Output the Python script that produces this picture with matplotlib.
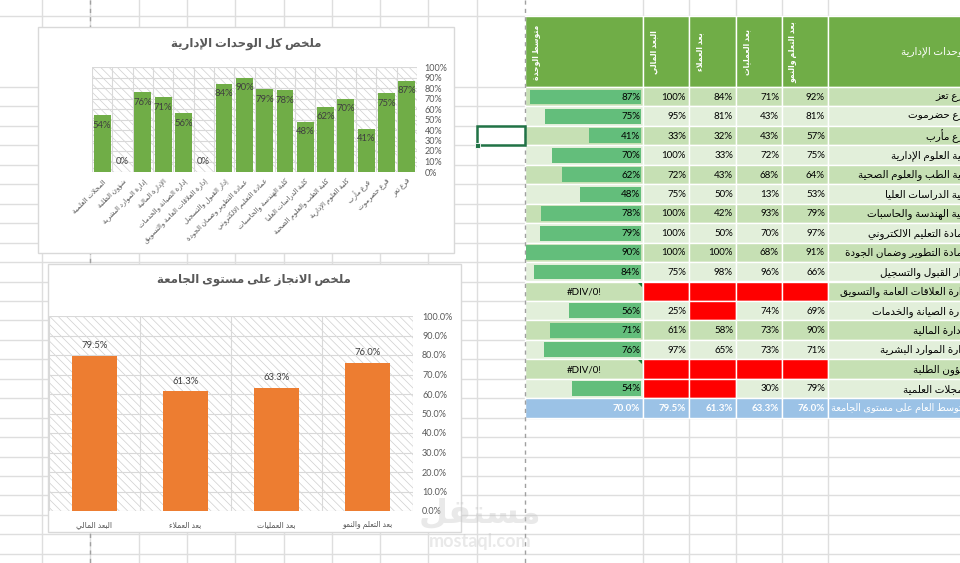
import numpy as np
import matplotlib.pyplot as plt
from matplotlib.patches import Rectangle, Polygon

plt.rcParams['font.family'] = ['Lato', 'DejaVu Sans']
plt.rcParams['hatch.linewidth'] = 0.5

# ---- data ----
units = ['فرع تعز', 'فرع حضرموت', 'فرع مأرب', 'كلية العلوم الإدارية',
         'كلية الطب والعلوم الصحية', 'كلية الدراسات العليا', 'كلية الهندسة والحاسبات',
         'عمادة التعليم الالكتروني', 'عمادة التطوير وضمان الجودة', 'إدار القبول والتسجيل',
         'إدارة العلاقات العامة والتسويق', 'إدارة الصيانة والخدمات', 'الإدارة المالية',
         'إدارة الموارد البشرية', 'شؤون الطلبة', 'المجلات العلمية']
unit_avg = [87, 75, 41, 70, 62, 48, 78, 79, 90, 84, None, 56, 71, 76, None, 54]
financial = [100, 95, 33, 100, 72, 75, 100, 100, 100, 75, None, 25, 61, 97, None, None]
customers = [84, 81, 32, 33, 43, 50, 42, 50, 100, 98, None, None, 58, 65, None, None]
operations = [71, 43, 43, 72, 68, 13, 93, 70, 68, 96, None, 74, 73, 73, None, 30]
learning = [92, 81, 57, 75, 64, 53, 79, 97, 91, 66, None, 69, 90, 71, None, 79]

headers = ['متوسط الوحدة', 'البعد المالي', 'بعد العملاء', 'بعد العمليات', 'بعد التعلم والنمو']
name_header = 'الوحدات الإدارية'
total_label = 'المتوسط العام على مستوى الجامعة'
total_avg = 70.0

dims = ['البعد المالي', 'بعد العملاء', 'بعد العمليات', 'بعد التعلم والنمو']
dim_avg = [79.5, 61.3, 63.3, 76.0]

title1 = 'ملخص كل الوحدات الإدارية'
title2 = 'ملخص الانجاز على مستوى الجامعة'

# ---- simple arabic shaping (presentation forms) ----
FORMS = {
    'ء': (0xFE80, 1), 'آ': (0xFE81, 2), 'أ': (0xFE83, 2), 'ؤ': (0xFE85, 2), 'إ': (0xFE87, 2),
    'ئ': (0xFE89, 4), 'ا': (0xFE8D, 2), 'ب': (0xFE8F, 4), 'ة': (0xFE93, 2), 'ت': (0xFE95, 4),
    'ث': (0xFE99, 4), 'ج': (0xFE9D, 4), 'ح': (0xFEA1, 4), 'خ': (0xFEA5, 4), 'د': (0xFEA9, 2),
    'ذ': (0xFEAB, 2), 'ر': (0xFEAD, 2), 'ز': (0xFEAF, 2), 'س': (0xFEB1, 4), 'ش': (0xFEB5, 4),
    'ص': (0xFEB9, 4), 'ض': (0xFEBD, 4), 'ط': (0xFEC1, 4), 'ظ': (0xFEC5, 4), 'ع': (0xFEC9, 4),
    'غ': (0xFECD, 4), 'ف': (0xFED1, 4), 'ق': (0xFED5, 4), 'ك': (0xFED9, 4), 'ل': (0xFEDD, 4),
    'م': (0xFEE1, 4), 'ن': (0xFEE5, 4), 'ه': (0xFEE9, 4), 'و': (0xFEED, 2), 'ى': (0xFEEF, 2),
    'ي': (0xFEF1, 4),
}
LAM_ALEF = {'آ': 0xFEF5, 'أ': 0xFEF7, 'إ': 0xFEF9, 'ا': 0xFEFB}


def joins_next(c):
    return c in FORMS and FORMS[c][1] == 4


def ar(text):
    out = []
    i, n = 0, len(text)
    while i < n:
        c = text[i]
        prev = text[i - 1] if i > 0 else ''
        if c == 'ل' and i + 1 < n and text[i + 1] in LAM_ALEF:
            out.append(chr(LAM_ALEF[text[i + 1]] + (1 if joins_next(prev) else 0)))
            i += 2
            continue
        if c not in FORMS:
            out.append(c)
            i += 1
            continue
        base, k = FORMS[c]
        p = joins_next(prev)
        nx = text[i + 1] if i + 1 < n else ''
        q = k == 4 and nx in FORMS and nx != 'ء'
        if k == 1:
            f = 0
        elif k == 2:
            f = 1 if p else 0
        else:
            f = {(False, False): 0, (True, False): 1, (False, True): 2, (True, True): 3}[(p, q)]
        out.append(chr(base + f))
        i += 1
    return ''.join(reversed(out))


# ---- figure / sheet background ----
W, H = 960, 563
fig = plt.figure(figsize=(9.6, 5.63), dpi=100)
bg = fig.add_axes([0, 0, 1, 1])
bg.set_xlim(0, W)
bg.set_ylim(H, 0)
bg.axis('off')


def px_axes(x0, y0, x1, y1):
    return fig.add_axes([x0 / W, 1 - y1 / H, (x1 - x0) / W, (y1 - y0) / H])


GRID = '#DEDEDE'
rh = 19.45
col_x = [42 + 48.3 * k for k in range(10)]
tbl_x = [525, 643, 689, 736, 782, 828, 1000]
row_y = [16] + [87 + rh * k for k in range(25)]
for x in col_x + tbl_x[1:6]:
    bg.plot([x, x], [0, H], color=GRID, lw=1, zorder=0)
for y in row_y:
    bg.plot([0, W], [y, y], color=GRID, lw=1, zorder=0)
for x in [90, 525]:
    bg.plot([x, x], [0, H], color='#A0A0A0', lw=1, dashes=(3, 3), zorder=5)

# ---- table ----
GREEN = '#70AD47'
DARK, LIGHT = '#C6E0B4', '#E2EFDA'
for j in range(6):
    bg.add_patch(Rectangle((tbl_x[j], 16), tbl_x[j + 1] - tbl_x[j], 87 - 16,
                           fc=GREEN, ec='white', lw=1, zorder=1))
for j, h in enumerate(headers):
    bg.text(tbl_x[j] + 11, 52, ar(h), rotation=90, ha='center', va='center',
            color='white', fontsize=5.5, fontweight='bold', zorder=2)
bg.text(969, 52, ar(name_header), ha='right', va='center', color='white', fontsize=7.5, zorder=2)

dim_cols = [financial, customers, operations, learning]
vmax = max(v for v in unit_avg if v is not None)
for i, name in enumerate(units):
    y0 = 87 + i * rh
    yc = y0 + rh / 2 + 0.5
    fill = DARK if i % 2 == 0 else LIGHT
    for j in range(6):
        vals = None if j in (0, 5) else dim_cols[j - 1]
        fc = '#FF0000' if vals is not None and vals[i] is None else fill
        bg.add_patch(Rectangle((tbl_x[j], y0), tbl_x[j + 1] - tbl_x[j], rh,
                               fc=fc, ec='white', lw=1, zorder=1))
    v = unit_avg[i]
    if v is None:
        bg.text((tbl_x[0] + tbl_x[1]) / 2, yc, '#DIV/0!', ha='center', va='center',
                fontsize=7, color='black', zorder=3)
        bg.add_patch(Polygon([[638, y0 + 1], [642, y0 + 1], [642, y0 + 5]],
                             closed=True, fc='#1E7B34', ec='none', zorder=3))
    else:
        L = v / vmax * (641 - 526)
        bg.add_patch(Rectangle((641 - L, y0 + 2.5), L, rh - 4.5, fc='#63BE7B', ec='none', zorder=2))
        bg.text(640, yc, f'{v}%', ha='right', va='center', fontsize=7, color='black', zorder=3)
    for j, vals in enumerate(dim_cols, start=1):
        if vals[i] is not None:
            bg.text(tbl_x[j + 1] - 3, yc, f'{vals[i]}%', ha='right', va='center',
                    fontsize=7, color='black', zorder=3)
    bg.text(969, yc, ar(name), ha='right', va='center', fontsize=7.5, color='black', zorder=3)

# average row
y0 = 87 + 16 * rh
yc = y0 + rh / 2 + 0.5
for j in range(6):
    bg.add_patch(Rectangle((tbl_x[j], y0), tbl_x[j + 1] - tbl_x[j], rh,
                           fc='#9BC2E6', ec='white', lw=1, zorder=1))
bg.text(640, yc, f'{total_avg:.1f}%', ha='right', va='center', fontsize=7,
        color='white', fontweight='bold', zorder=3)
for j, v in enumerate(dim_avg, start=1):
    bg.text(tbl_x[j + 1] - 3, yc, f'{v:.1f}%', ha='right', va='center', fontsize=7,
            color='white', fontweight='bold', zorder=3)
bg.text(973, yc, ar(total_label), ha='right', va='center', fontsize=7,
        color='white', zorder=3)

# selected cell
bg.add_patch(Rectangle((477, 87 + 2 * rh), 48, rh, fill=False, ec='#217346', lw=1.8, zorder=6))
bg.add_patch(Rectangle((475, 87 + 3 * rh - 2), 4.5, 4.5, fc='#217346', ec='white', lw=0.6, zorder=7))

# ---- chart boxes ----
bg.add_patch(Rectangle((38, 27), 416, 226, fc='white', ec='#D9D9D9', lw=1, zorder=8))
bg.add_patch(Rectangle((48, 264), 413, 268, fc='white', ec='#D9D9D9', lw=1, zorder=8))
bg.text(246, 44, ar(title1), ha='center', va='center', fontsize=8.5, fontweight='bold',
        color='#595959', zorder=9)
bg.text(254, 280, ar(title2), ha='center', va='center', fontsize=8.5, fontweight='bold',
        color='#595959', zorder=9)


def style_plot(ax, n, ylabels, pad):
    ax.patch.set_visible(False)
    ax.add_patch(Rectangle((0, 0), 1, 1, transform=ax.transAxes, fc='white', ec='#CFCFCF',
                           hatch='\\\\\\\\', lw=0, zorder=0))
    ax.set_xlim(-0.5, n - 0.5)
    ax.set_ylim(0, 100)
    ax.set_yticks(np.arange(0, 101, 10))
    ax.set_yticklabels(ylabels)
    ax.yaxis.tick_right()
    ax.set_xticks(np.arange(-0.5, n, 1), minor=True)
    ax.grid(axis='y', color='#D9D9D9', lw=0.8)
    ax.grid(axis='x', which='minor', color='#D9D9D9', lw=0.8)
    ax.set_axisbelow(True)
    for s in ax.spines.values():
        s.set_visible(False)
    ax.tick_params(axis='both', which='both', length=0)
    ax.tick_params(axis='y', labelsize=6.5, labelcolor='#595959', pad=pad)


# ---- chart 1: all units ----
cats1 = units[::-1]
vals1 = [0 if v is None else v for v in unit_avg[::-1]]
ax1 = px_axes(92, 67, 417, 172)
style_plot(ax1, len(cats1), [f'{t}%' for t in range(0, 101, 10)], 5.5)
x1 = np.arange(len(cats1))
ax1.bar(x1, vals1, width=0.83, color=GREEN, zorder=2)
for x, v in zip(x1, vals1):
    ax1.annotate(f'{v}%', (x, v), xytext=(0, 10 if v == 0 else -10), textcoords='offset pixels',
                 ha='center', va='center', fontsize=6.8, color='#404040', zorder=3)
ax1.set_xticks(x1)
ax1.set_xticklabels([ar(c) for c in cats1], rotation=45, ha='right', va='top',
                    rotation_mode='anchor', fontsize=5, color='#595959')
ax1.tick_params(axis='x', pad=4)

# ---- chart 2: university level ----
ax2 = px_axes(49, 316, 413, 511)
style_plot(ax2, len(dims), [f'{t:.1f}%' for t in range(0, 101, 10)], 6.5)
x2 = np.arange(len(dims))
ax2.bar(x2, dim_avg, width=0.5, color='#ED7D31', zorder=2)
for x, v in zip(x2, dim_avg):
    ax2.annotate(f'{v:.1f}%', (x, v), xytext=(0, 10), textcoords='offset pixels',
                 ha='center', va='center', fontsize=6.8, color='#404040', zorder=3)
ax2.set_xticks(x2)
ax2.set_xticklabels([ar(d) for d in dims], fontsize=5.5, color='#595959')
ax2.tick_params(axis='x', pad=7)

# ---- watermark ----
fig.text(480 / W, 1 - 513 / H, ar('مستقل'), ha='center', va='center', fontsize=24,
         fontweight='bold', color='#C8C8C8', alpha=0.4, zorder=10)
fig.text(480 / W, 1 - 542 / H, 'mostaql.com', ha='center', va='center', fontsize=13,
         fontweight='bold', color='#C8C8C8', alpha=0.4, zorder=10)

fig.savefig('out.png', dpi=100)
